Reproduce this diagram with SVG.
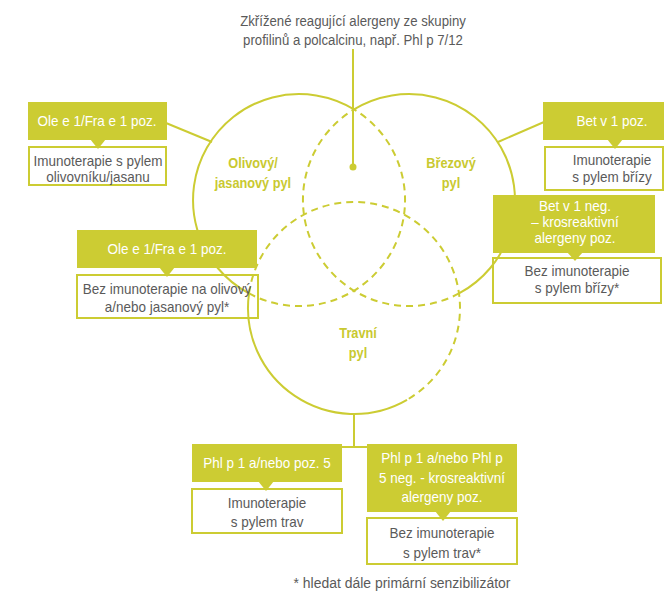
<svg xmlns="http://www.w3.org/2000/svg" width="664" height="592" viewBox="0 0 664 592">
<style>
.t{font-family:"Liberation Sans Narrow","Liberation Sans",Arial,sans-serif;font-size:15px;text-anchor:middle;transform-box:fill-box;transform-origin:center;transform:scale(0.9,1)}
.top{transform:scale(0.88,1)}
.fn{transform:scale(0.93,1)}
.g{fill:#5a5a5a}
.w{fill:#ffffff}
.lbl{fill:#c9c930;font-weight:bold;transform:scale(0.85,1)}
.gb{fill:#cccc33}
.wb{fill:#ffffff;stroke:#cccc33;stroke-width:2}
.c{fill:none;stroke:#cccc33;stroke-width:2}
.d{fill:none;stroke:#cccc33;stroke-width:2;stroke-dasharray:7 5}
</style>
<rect width="664" height="592" fill="#ffffff"/>
<g id="white-boxes">
<rect id="wb-olive-pos" class="wb" x="29" y="147" width="137" height="38"/>
<rect id="wb-birch-pos" class="wb" x="545" y="147" width="118" height="43"/>
<rect id="wb-birch-neg" class="wb" x="493" y="258" width="168" height="45"/>
<rect id="wb-olive-neg" class="wb" x="77" y="275" width="181" height="43"/>
<rect id="wb-grass-pos" class="wb" x="192" y="489" width="150" height="44"/>
<rect id="wb-grass-neg" class="wb" x="367" y="518" width="150" height="46"/>
</g>
<g id="connectors">
<line class="c" x1="353" y1="49" x2="353" y2="167"/>
<circle cx="353" cy="167" r="3.5" fill="#cccc33"/>
<line class="c" x1="166" y1="123" x2="212" y2="142"/>
<line class="c" x1="498" y1="142" x2="544" y2="122"/>
<line class="c" x1="354" y1="414" x2="354" y2="447"/>
<line class="c" x1="341" y1="447" x2="368" y2="447"/>
</g>
<g id="circle-olive">
<path class="c" d="M354,109.385 A106,106 0 1 0 249,293.47"/>
<path class="d" d="M249,293.47 A106,106 0 0 0 354,109.385"/>
<text class="t lbl" x="253" y="168">Olivový/</text>
<text class="t lbl" x="253" y="188">jasanový pyl</text>
</g>
<g id="circle-birch">
<path class="c" d="M354,109.385 A106,106 0 1 1 459,293.47"/>
<path class="d" d="M459,293.47 A106,106 0 0 1 354,109.385"/>
<text class="t lbl" x="451" y="168">Březový</text>
<text class="t lbl" x="451" y="188">pyl</text>
</g>
<g id="circle-grass">
<path class="c" d="M407,399.8 A106,106 0 0 1 249,293.47"/>
<path class="d" d="M249,293.47 A106,106 0 1 1 407,399.8"/>
<text class="t lbl" x="358" y="338">Travní</text>
<text class="t lbl" x="358" y="358">pyl</text>
</g>
<g id="top-note">
<text class="t g top" x="353" y="26">Zkřížené reagující alergeny ze skupiny</text>
<text class="t g top" x="353" y="45">profilinů a polcalcinu, např. Phl p 7/12</text>
</g>
<g id="olive-pos">
<rect class="gb" x="28" y="102" width="139" height="38"/>
<polygon class="gb" points="90,139 106,139 98,149"/>
<text class="t w" x="97" y="126">Ole e 1/Fra e 1 poz.</text>
<text class="t g" x="98" y="166">Imunoterapie s pylem</text>
<text class="t g" x="98" y="182">olivovníku/jasanu</text>
</g>
<g id="birch-pos">
<rect class="gb" x="543" y="102" width="125" height="38"/>
<polygon class="gb" points="607,139 623,139 615,149"/>
<text class="t w" x="612" y="126">Bet v 1 poz.</text>
<text class="t g" x="612" y="165">Imunoterapie</text>
<text class="t g" x="612" y="182">s pylem břízy</text>
</g>
<g id="birch-neg">
<rect class="gb" x="493" y="195" width="162" height="58"/>
<polygon class="gb" points="567,252 583,252 575,261"/>
<text class="t w" x="575" y="211">Bet v 1 neg.</text>
<text class="t w" x="575" y="227">– krosreaktivní</text>
<text class="t w" x="575" y="243">alergeny poz.</text>
<text class="t g" x="577" y="276">Bez imunoterapie</text>
<text class="t g" x="577" y="293">s pylem břízy*</text>
</g>
<g id="olive-neg">
<rect class="gb" x="77" y="230" width="180" height="38"/>
<polygon class="gb" points="159,267 175,267 167,277"/>
<text class="t w" x="167" y="254">Ole e 1/Fra e 1 poz.</text>
<text class="t g" x="167" y="294">Bez imunoterapie na olivový</text>
<text class="t g" x="167" y="312">a/nebo jasanový pyl*</text>
</g>
<g id="grass-pos">
<rect class="gb" x="192" y="444" width="150" height="38"/>
<polygon class="gb" points="258,481 274,481 266,491"/>
<text class="t w" x="267" y="468">Phl p 1 a/nebo poz. 5</text>
<text class="t g" x="267" y="508">Imunoterapie</text>
<text class="t g" x="267" y="527">s pylem trav</text>
</g>
<g id="grass-neg">
<rect class="gb" x="367" y="444" width="150" height="68"/>
<polygon class="gb" points="435,511 451,511 443,521"/>
<text class="t w" x="442" y="463">Phl p 1 a/nebo Phl p</text>
<text class="t w" x="442" y="483">5 neg. - krosreaktivní</text>
<text class="t w" x="442" y="502">alergeny poz.</text>
<text class="t g" x="442" y="538">Bez imunoterapie</text>
<text class="t g" x="442" y="558">s pylem trav*</text>
</g>
<g id="footnote">
<text class="t g fn" x="402" y="588">* hledat dále primární senzibilizátor</text>
</g>
</svg>
